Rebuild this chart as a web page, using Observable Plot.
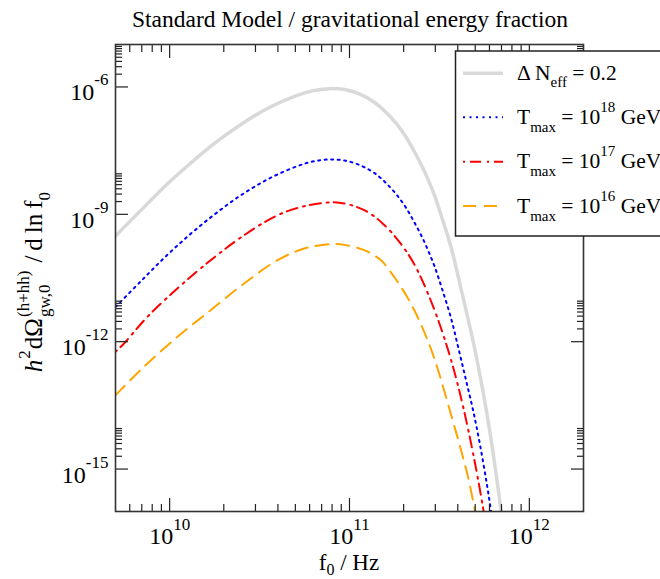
<!DOCTYPE html>
<html><head><meta charset="utf-8">
<script src="https://cdn.jsdelivr.net/npm/d3@7"></script>
<script src="https://cdn.jsdelivr.net/npm/@observablehq/plot@0.6"></script>
<style>
body{margin:0;background:#fff;}
#wrap{position:relative;width:660px;height:579px;overflow:hidden;}
</style></head><body><div id="wrap"></div>
<script>
// ---- data (log10 of frequency in Hz, log10 of h^2 dOmega/dlnf) ----
const grayLogF = [9.699, 9.727, 9.851, 9.978, 10.110, 10.249, 10.394, 10.546, 10.709, 10.795, 10.884, 10.973, 11.058, 11.138, 11.204, 11.264, 11.316, 11.360, 11.401, 11.438, 11.472, 11.514, 11.565, 11.609, 11.650, 11.689, 11.726, 11.763, 11.787, 11.813, 11.843, 11.856];
const grayLogOmega = [-9.51, -9.39, -8.86, -8.32, -7.82, -7.33, -6.89, -6.50, -6.20, -6.09, -6.04, -6.06, -6.17, -6.36, -6.60, -6.88, -7.19, -7.52, -7.85, -8.19, -8.55, -9.08, -9.78, -10.55, -11.30, -12.02, -12.80, -13.67, -14.30, -15.05, -15.99, -16.40];

const blueLogF = [9.699, 9.727, 9.851, 9.978, 10.110, 10.249, 10.394, 10.546, 10.709, 10.795, 10.884, 10.973, 11.058, 11.138, 11.204, 11.264, 11.316, 11.360, 11.401, 11.438, 11.472, 11.514, 11.565, 11.609, 11.650, 11.689, 11.726, 11.763, 11.787, 11.796];
const blueLogOmega = [-11.18, -11.062, -10.528, -9.993, -9.485, -9.004, -8.557, -8.173, -7.867, -7.757, -7.709, -7.733, -7.844, -8.025, -8.267, -8.550, -8.856, -9.186, -9.515, -9.862, -10.215, -10.747, -11.453, -12.216, -12.946, -13.652, -14.437, -15.338, -15.99, -16.25];

const redLogF = [9.699, 9.746, 9.876, 10.043, 10.228, 10.414, 10.600, 10.748, 10.878, 10.952, 11.017, 11.082, 11.134, 11.184, 11.231, 11.277, 11.314, 11.360, 11.407, 11.463, 11.509, 11.546, 11.577, 11.605, 11.630, 11.658, 11.685, 11.713, 11.740, 11.750];
const redLogOmega = [-12.240, -12.042, -11.416, -10.747, -10.081, -9.492, -9.021, -8.809, -8.722, -8.731, -8.793, -8.903, -9.037, -9.216, -9.414, -9.650, -9.862, -10.175, -10.579, -11.150, -11.684, -12.165, -12.615, -13.063, -13.500, -14.032, -14.586, -15.202, -15.85, -16.10];

const orangeLogF = [9.699, 9.857, 10.043, 10.228, 10.414, 10.600, 10.748, 10.896, 10.971, 11.082, 11.175, 11.221, 11.269, 11.320, 11.364, 11.400, 11.435, 11.472, 11.509, 11.546, 11.583, 11.620, 11.658, 11.694, 11.704];
const orangeLogOmega = [-13.259, -12.593, -11.886, -11.258, -10.629, -10.081, -9.805, -9.704, -9.720, -9.845, -10.081, -10.316, -10.60, -10.94, -11.29, -11.62, -11.97, -12.40, -12.90, -13.44, -13.99, -14.55, -15.17, -15.90, -16.12];

const xMajor = [1e10, 1e11, 1e12];
const xMinor = [6e9, 7e9, 8e9, 9e9,
  2e10, 3e10, 4e10, 5e10, 6e10, 7e10, 8e10, 9e10,
  2e11, 3e11, 4e11, 5e11, 6e11, 7e11, 8e11, 9e11];
const yMajor = [1e-15, 1e-12, 1e-9, 1e-6];
const yMinor = [2e-15, 3e-15, 4e-15, 5e-15, 6e-15, 7e-15, 8e-15, 9e-15,
  2e-12, 3e-12, 4e-12, 5e-12, 6e-12, 7e-12, 8e-12, 9e-12,
  2e-9, 3e-9, 4e-9, 5e-9, 6e-9, 7e-9, 8e-9, 9e-9,
  2e-6, 3e-6, 4e-6, 5e-6, 6e-6, 7e-6, 8e-6, 9e-6];

const titleText = "Standard Model / gravitational energy fraction";

// ---- styles ----
const serif = '"Liberation Serif", "Times New Roman", Times, serif';
const seriesStyle = [
  {stroke: "#d9d9d9", strokeWidth: 3.5},
  {stroke: "#0000ff", strokeWidth: 2, strokeDasharray: "2,4.5"},
  {stroke: "#ff0000", strokeWidth: 2, strokeDasharray: "2,5,11,6"},
  {stroke: "#ffa500", strokeWidth: 2, strokeDasharray: "13,8"}
];
const toRows = (lf, lo) => lf.map((v, i) => ({f: 10 ** v, omega: 10 ** lo[i]}));
const series = [
  toRows(grayLogF, grayLogOmega),
  toRows(blueLogF, blueLogOmega),
  toRows(redLogF, redLogOmega),
  toRows(orangeLogF, orangeLogOmega)
];

const fmt = d => "10^" + Math.round(Math.log10(d));
const tk = {fill: "none", stroke: "#222", strokeWidth: 1.2};

const plot = Plot.plot({
  width: 660, height: 579,
  marginLeft: 115, marginRight: 77, marginTop: 44, marginBottom: 68,
  style: {fontFamily: serif, background: "white", color: "black", overflow: "hidden"},
  x: {type: "log", domain: [5e9, 2e12], label: null},
  y: {type: "log", domain: [1e-16, 1e-5], label: null},
  marks: [
    ...series.map((rows, i) => Plot.line(rows, {x: "f", y: "omega", curve: "catmull-rom", clip: true, ...seriesStyle[i]})),
    Plot.axisX(xMajor, {anchor: "bottom", tickSize: 13, dy: -13, ...tk}),
    Plot.axisX(xMajor, {anchor: "top", tickSize: 13, dy: 13, ...tk}),
    Plot.axisX(xMinor, {anchor: "bottom", tickSize: 7, dy: -7, ...tk}),
    Plot.axisX(xMinor, {anchor: "top", tickSize: 7, dy: 7, ...tk}),
    Plot.axisY(yMajor, {anchor: "left", tickSize: 13, dx: 13, ...tk}),
    Plot.axisY(yMajor, {anchor: "right", tickSize: 13, dx: -13, ...tk}),
    Plot.axisY(yMinor, {anchor: "left", tickSize: 7, dx: 7, ...tk}),
    Plot.axisY(yMinor, {anchor: "right", tickSize: 7, dx: -7, ...tk}),
    Plot.axisX(xMajor, {anchor: "bottom", tickSize: 0, tickPadding: 0, tickFormat: fmt, fontSize: 24, fill: "black"}),
    Plot.axisY(yMajor, {anchor: "left", tickSize: 0, tickPadding: 7, tickFormat: fmt, fontSize: 24, fill: "black"}),
    Plot.frame({stroke: "#333", strokeWidth: 1.6})
  ]
});
document.getElementById("wrap").appendChild(plot);

// ---- superscript tick labels ----
function supify(sel, baseY, supDy, supSize) {
  sel.each(function () {
    const s = this.textContent;
    if (!s.includes("^")) return;
    const [b, e] = s.split("^");
    this.textContent = "";
    this.setAttribute("y", baseY);
    const t = d3.select(this);
    t.append("tspan").text(b);
    t.append("tspan").attr("dy", supDy).attr("font-size", supSize).text(e);
  });
}
const svg = d3.select(plot);
supify(svg.selectAll('g[aria-label="x-axis tick label"] text'), 32.5, -14, 17);
supify(svg.selectAll('g[aria-label="y-axis tick label"] text'), 13.5, -15, 17);

// ---- title ----
svg.append("text").attr("x", 350).attr("y", 27).attr("text-anchor", "middle")
  .attr("font-family", serif).attr("font-size", 23.5).attr("fill", "black").text(titleText);

// ---- x label ----
const xl = svg.append("text").attr("x", 349).attr("y", 570).attr("text-anchor", "middle")
  .attr("font-family", serif).attr("font-size", 23).attr("fill", "black");
xl.append("tspan").text("f");
xl.append("tspan").attr("dy", 5).attr("font-size", 16).text("0");
xl.append("tspan").attr("dy", -5).text(" / Hz");

// ---- y label (rotated, built from pieces) ----
const ylg = svg.append("g").attr("font-family", serif).attr("fill", "black").attr("text-anchor", "start");
let pos = 0;
function piece(str, {size = 25, y = 0, italic = false, gap = 0, advance = true} = {}) {
  const t = ylg.append("text").attr("x", pos + gap).attr("y", y).attr("font-size", size)
    .attr("font-style", italic ? "italic" : null).text(str);
  const w = t.node().getComputedTextLength();
  if (advance) pos += gap + w;
  return w;
}
piece("h", {italic: true});
piece("2", {size: 17, y: -12, gap: 1});
piece("dΩ", {gap: 1});
const supW = piece("(h+hh)", {size: 17, y: -13, gap: 1, advance: false});
const subW = piece("gw,0", {size: 17, y: 8, gap: 1, advance: false});
pos += 1 + Math.max(supW, subW);
piece("/", {gap: 8});
piece("d", {gap: 5});
piece("ln", {gap: 5});
piece("f", {gap: 5});
piece("0", {size: 17, y: 8, gap: 0});
const yStart = 282 + pos / 2;
ylg.attr("transform", `translate(42,${yStart}) rotate(-90)`);

// ---- legend ----
const lg = svg.append("g").attr("text-anchor", "start");
lg.append("rect").attr("x", 455.5).attr("y", 51).attr("width", 220).attr("height", 185)
  .attr("fill", "white").attr("stroke", "#222").attr("stroke-width", 1.5);
const rowsY = [73.3, 117.3, 161.7, 206];
const legendParts = [
  [["Δ N", 0], ["eff", 1], [" = 0.2", 0]],
  [["T", 0], ["max", 1], [" = 10", 0], ["18", 2], [" GeV", 0]],
  [["T", 0], ["max", 1], [" = 10", 0], ["17", 2], [" GeV", 0]],
  [["T", 0], ["max", 1], [" = 10", 0], ["16", 2], [" GeV", 0]]
];
rowsY.forEach((y, i) => {
  const st = seriesStyle[i];
  lg.append("line").attr("x1", 463).attr("x2", 503).attr("y1", y).attr("y2", y)
    .attr("stroke", st.stroke).attr("stroke-width", st.strokeWidth)
    .attr("stroke-dasharray", st.strokeDasharray || null);
  const t = lg.append("text").attr("x", 517).attr("y", y + 6.7)
    .attr("font-family", serif).attr("font-size", 21.5).attr("fill", "black");
  let cur = 0;
  legendParts[i].forEach(([s, kind]) => {
    const target = kind === 1 ? (i === 0 ? 6.5 : 8) : kind === 2 ? -12 : 0;
    const ts = t.append("tspan").attr("dy", target - cur).text(s);
    if (kind) ts.attr("font-size", 15);
    cur = target;
  });
});
</script></body></html>
